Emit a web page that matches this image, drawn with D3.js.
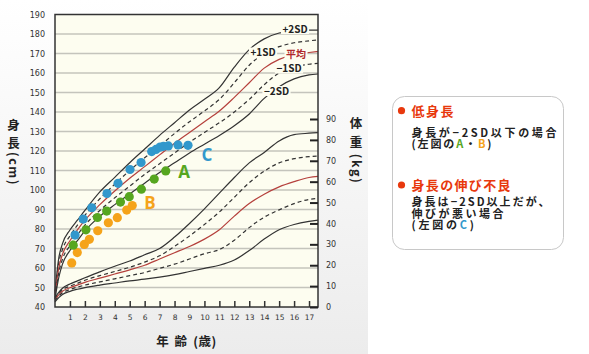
<!DOCTYPE html>
<html>
<head>
<meta charset="utf-8">
<script src="https://cdn.jsdelivr.net/npm/d3@7"></script>
<style>
  body { margin: 0; background: #fff; }
  svg { display: block; }
</style>
</head>
<body>
<svg id="chart" width="589" height="354"></svg>
<script>
// ages (years) used by all reference curves
const ages = [0, 0.25, 0.5, 1, 1.5, 2, 3, 4, 5, 6, 7, 8, 9, 10, 11, 12, 13, 14, 15, 16, 17, 17.6];

// height curves (cm)
const heightP2 = [48, 65, 72.5, 79.5, 84.5, 89.5, 99, 106.5, 114, 121, 128, 134.5, 141, 146.5, 152.5, 163, 172, 177.5, 180.5, 181.5, 182, 182];
const heightP1 = [47, 62.5, 69.5, 76.5, 82, 87, 95.5, 103, 110, 116.5, 122.5, 129, 135, 140.5, 146.5, 155, 164, 170, 173.5, 175.5, 176.5, 177];
const heightMean = [46, 60, 67, 74, 79.5, 84.5, 92.5, 99.5, 106, 112, 118, 124, 129.5, 135, 140.5, 147.5, 155, 162.5, 167, 169.5, 170.5, 171];
const heightM1 = [45, 57.5, 64.5, 71.5, 77, 82, 89.5, 96, 102, 108, 113.5, 119, 124.5, 129.5, 134.5, 140, 146.5, 154, 160, 163, 164.5, 165];
const heightM2 = [44, 55, 62, 69, 74, 79, 86.5, 92.5, 98, 103.5, 109, 114, 119, 123.5, 128, 133, 139, 147, 153, 157, 159, 159.5];

// weight curves (kg)
const weightP2 = [4.5, 7, 9, 11, 12.5, 14, 16.8, 19.5, 22, 25, 28, 33.5, 40, 47, 54.5, 62, 69, 74, 79.5, 82.5, 83.2, 83.5];
const weightP1 = [4, 6.3, 8.2, 10, 11.3, 12.8, 15, 17, 19, 21.5, 24.5, 29, 34, 39.5, 45.5, 52.5, 59.5, 65, 69, 71, 72, 72.3];
const weightMean = [3.5, 5.8, 7.5, 9.2, 10.5, 11.8, 13.8, 15.8, 17.8, 20, 23, 26, 29, 32.5, 37, 43.5, 49.5, 54, 57.5, 60, 62, 62.5];
const weightM1 = [3, 5.2, 6.8, 8.4, 9.5, 10.5, 12, 13.5, 15, 16.5, 18.5, 20.5, 23, 25.5, 27.5, 32, 38, 43, 46.5, 49.5, 51.5, 52];
const weightM2 = [2.5, 4.5, 6, 7.5, 8.5, 9.3, 10.5, 11.5, 12.5, 13.3, 14.3, 15.5, 17, 18.5, 20, 22.5, 27, 32.5, 37, 39.5, 41, 41.6];

// measured children [age, cm]
const childA = [[1.22, 71.7], [2.07, 79.6], [2.84, 85.9], [3.46, 89.2], [4.38, 93.8], [4.97, 96.6], [5.78, 100.4], [6.64, 105.6], [7.41, 109.8]];
const childB = [[1.12, 62.6], [1.49, 67.9], [1.96, 72.1], [2.30, 74.7], [2.86, 79.1], [3.57, 83.2], [4.17, 85.8], [4.80, 89.7], [5.17, 92.0]];
const childC = [[1.34, 76.9], [1.89, 85.1], [2.46, 90.9], [3.48, 98.2], [4.22, 103.4], [5.02, 110.5], [5.76, 114.1],
                [6.47, 119.7], [6.76, 120.8], [7.03, 122.0], [7.26, 122.4], [7.58, 122.6], [8.23, 123.1], [8.9, 122.9]];

const ageTicks = d3.range(1, 18);
const heightTicks = d3.range(40, 191, 10);
const weightTicks = d3.range(0, 91, 10);

const plotBg = "#fdfdf0";
const ink = "#333";

const svg = d3.select("#chart");

// soft grey panel behind the chart
const defs = svg.append("defs");
const grad = defs.append("linearGradient").attr("id", "panel").attr("x1", 0).attr("y1", 0).attr("x2", 0).attr("y2", 1);
grad.append("stop").attr("offset", "0%").attr("stop-color", "#ffffff");
grad.append("stop").attr("offset", "100%").attr("stop-color", "#ececec");
svg.append("rect").attr("x", 0).attr("y", 0).attr("width", 368).attr("height", 354).attr("fill", "url(#panel)");

const x = d3.scaleLinear().domain([0, 17.6]).range([55, 318]);
const yH = d3.scaleLinear().domain([40, 190]).range([307, 14.5]);
const yW = d3.scaleLinear().domain([0, 90]).range([307, 119]);

svg.append("rect")
    .attr("x", 55).attr("y", 14.5)
    .attr("width", 263).attr("height", 292.5)
    .attr("fill", plotBg);

// grid
svg.append("g")
    .selectAll("line")
    .data(heightTicks.filter(d => d > 40 && d < 190))
    .enter()
    .append("line")
    .attr("x1", 55).attr("x2", 318)
    .attr("y1", d => yH(d)).attr("y2", d => yH(d))
    .attr("stroke", "#c4c4bc")
    .attr("stroke-width", 1.5);

// reference curves
const lineH = d3.line().x((d, i) => x(ages[i])).y(d => yH(d)).curve(d3.curveMonotoneX);
const lineW = d3.line().x((d, i) => x(ages[i])).y(d => yW(d)).curve(d3.curveMonotoneX);

const curves = [
    {vals: heightP2, line: lineH, dash: null, color: ink},
    {vals: heightP1, line: lineH, dash: "4,3", color: ink},
    {vals: heightMean, line: lineH, dash: null, color: "#b5403c"},
    {vals: heightM1, line: lineH, dash: "4,3", color: ink},
    {vals: heightM2, line: lineH, dash: null, color: ink},
    {vals: weightP2, line: lineW, dash: null, color: ink},
    {vals: weightP1, line: lineW, dash: "4,3", color: ink},
    {vals: weightMean, line: lineW, dash: null, color: "#b5403c"},
    {vals: weightM1, line: lineW, dash: "4,3", color: ink},
    {vals: weightM2, line: lineW, dash: null, color: ink}
];

svg.append("g")
    .selectAll("path")
    .data(curves)
    .enter()
    .append("path")
    .attr("fill", "none")
    .attr("stroke", d => d.color)
    .attr("stroke-width", 1.2)
    .attr("stroke-dasharray", d => d.dash)
    .attr("d", d => d.line(d.vals));

// SD labels sitting on the curves
const sdLabels = [
    {text: "+2SD", x: 295, y: 29, color: "#222"},
    {text: "+1SD", x: 263, y: 52.5, color: "#222"},
    {text: "平均", x: 296, y: 54.5, color: "#b0282c"},
    {text: "−1SD", x: 289, y: 68.5, color: "#222"},
    {text: "−2SD", x: 276.5, y: 91, color: "#222"}
];
const sdG = svg.append("g");
sdLabels.forEach(l => {
    const g = sdG.append("g");
    const t = g.append("text")
        .attr("x", l.x).attr("y", l.y)
        .attr("dy", "0.36em")
        .attr("text-anchor", "middle")
        .attr("font-family", "'Noto Sans CJK JP', 'DejaVu Sans', sans-serif")
        .attr("font-weight", "bold")
        .attr("font-size", 10)
        .attr("fill", l.color)
        .text(l.text);
    const b = t.node().getBBox();
    g.insert("rect", "text")
        .attr("x", b.x - 1.5).attr("y", l.y - 5)
        .attr("width", b.width + 3).attr("height", 10)
        .attr("fill", plotBg);
});

// children
const groups = [
    {pts: childB, color: "#f5a31a"},
    {pts: childA, color: "#56a61f"},
    {pts: childC, color: "#3298cc"}
];
groups.forEach(gp => {
    svg.append("g")
        .selectAll("circle")
        .data(gp.pts)
        .enter()
        .append("circle")
        .attr("cx", d => x(d[0]))
        .attr("cy", d => yH(d[1]))
        .attr("r", 4.6)
        .attr("fill", gp.color);
});

const letters = [
    {t: "A", x: 184, y: 171.5, color: "#56a61f"},
    {t: "B", x: 150, y: 202.5, color: "#f5a31a"},
    {t: "C", x: 207, y: 155, color: "#3298cc"}
];
svg.append("g")
    .selectAll("text")
    .data(letters)
    .enter()
    .append("text")
    .attr("x", d => d.x).attr("y", d => d.y)
    .attr("dy", "0.36em")
    .attr("text-anchor", "middle")
    .attr("font-family", "'Open Sans', sans-serif")
    .attr("font-weight", "bold")
    .attr("font-size", 17)
    .attr("fill", d => d.color)
    .text(d => d.t);

// frame
svg.append("rect")
    .attr("x", 55).attr("y", 14.5)
    .attr("width", 263).attr("height", 292.5)
    .attr("fill", "none")
    .attr("stroke", ink)
    .attr("stroke-width", 1.5);

// axes
const tickFont = "'DejaVu Sans', sans-serif";

const leftAxis = svg.append("g")
    .attr("transform", "translate(55,0)")
    .call(d3.axisLeft(yH).tickValues(heightTicks).tickSize(0).tickPadding(10));
leftAxis.select(".domain").remove();
leftAxis.selectAll("text").attr("font-family", tickFont).attr("font-size", 8).attr("fill", "#333");

const bottomAxis = svg.append("g")
    .attr("transform", "translate(0,307)")
    .call(d3.axisBottom(x).tickValues(ageTicks).tickSize(-6).tickPadding(8));
bottomAxis.select(".domain").remove();
bottomAxis.selectAll("line").attr("stroke", ink).attr("stroke-width", 1.5);
bottomAxis.selectAll("text").attr("font-family", tickFont).attr("font-size", 7.5).attr("fill", "#333");

const rightAxis = svg.append("g")
    .attr("transform", "translate(318,0)")
    .call(d3.axisRight(yW).tickValues(weightTicks).tickSize(-8).tickPadding(8));
rightAxis.select(".domain").remove();
rightAxis.selectAll("line").attr("stroke", "#222").attr("stroke-width", 2);
rightAxis.selectAll("text").attr("font-family", tickFont).attr("font-size", 8).attr("fill", "#333");

// axis titles
const jp = "'Noto Sans CJK JP', sans-serif";
function vTitle(cx, chars, paren) {
    chars.forEach(c => {
        svg.append("text")
            .attr("x", cx).attr("y", c[1])
            .attr("dy", "0.38em")
            .attr("text-anchor", "middle")
            .attr("font-family", jp).attr("font-weight", "bold").attr("font-size", 12.5)
            .attr("fill", "#222")
            .text(c[0]);
    });
    svg.append("text")
        .attr("transform", `translate(${cx},${paren[1]}) rotate(90)`)
        .attr("dy", "0.35em")
        .attr("text-anchor", "middle")
        .attr("font-family", jp).attr("font-weight", "bold").attr("font-size", 12.5)
        .attr("letter-spacing", 1.5)
        .attr("fill", "#222")
        .text(paren[0]);
}
vTitle(13.5, [["身", 125], ["長", 143]], ["(cm)", 169]);
vTitle(356, [["体", 123.5], ["重", 142]], ["(kg)", 169]);

[["年", 162.8], ["齢", 181], ["(歳)", 205]].forEach(c => {
    svg.append("text")
        .attr("x", c[1]).attr("y", 341.7)
        .attr("dy", "0.38em")
        .attr("text-anchor", "middle")
        .attr("font-family", jp).attr("font-weight", "bold").attr("font-size", 12.5)
        .attr("letter-spacing", 0.5)
        .attr("fill", "#222")
        .text(c[0]);
});

// legend box
svg.append("rect")
    .attr("x", 392.5).attr("y", 96.5)
    .attr("width", 171).attr("height", 153)
    .attr("rx", 12)
    .attr("fill", "#fff")
    .attr("stroke", "#c8c8c8");

const red = "#e8380d";
const legend = svg.append("g")
    .attr("font-family", jp)
    .attr("font-weight", "bold");

[[110.7, "低身長", 42], [185, "身長の伸び不良", 99]].forEach(h => {
    legend.append("circle").attr("cx", 401.5).attr("cy", h[0]).attr("r", 3.6).attr("fill", red);
    legend.append("text")
        .attr("x", 411.5).attr("y", h[0])
        .attr("dy", "0.38em")
        .attr("font-size", 13)
        .attr("textLength", h[2]).attr("lengthAdjust", "spacing")
        .attr("fill", red)
        .text(h[1]);
});

const body = [
    {y: 132.5, len: 145, parts: [["身長が−2SD以下の場合", "#222"]]},
    {y: 144, len: 80, parts: [["(左図の", "#222"], ["A", "#56a61f"], ["・", "#222"], ["B", "#f5a31a"], [")", "#222"]]},
    {y: 202, len: 138, parts: [["身長は−2SD以上だが、", "#222"]]},
    {y: 213.6, len: 92, parts: [["伸びが悪い場合", "#222"]]},
    {y: 225.2, len: 62.5, parts: [["(左図の", "#222"], ["C", "#3298cc"], [")", "#222"]]}
];
body.forEach(line => {
    const t = legend.append("text")
        .attr("x", 411.5).attr("y", line.y)
        .attr("dy", "0.38em")
        .attr("font-size", 11)
        .attr("textLength", line.len).attr("lengthAdjust", "spacing");
    line.parts.forEach(p => t.append("tspan").attr("fill", p[1]).text(p[0]));
});
</script>
</body>
</html>
